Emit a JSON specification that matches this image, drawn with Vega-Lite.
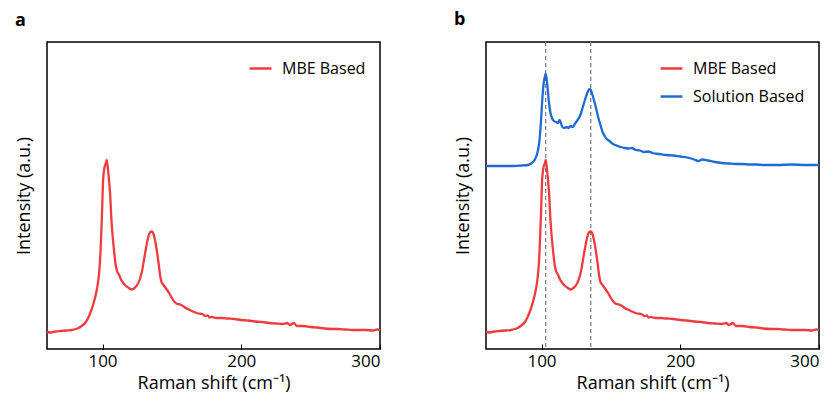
{
  "$schema": "https://vega.github.io/schema/vega-lite/v6.json",
  "padding": {"left": 14, "top": 10, "right": 5, "bottom": 5},
  "background": "white",
  "config": {
    "font": "Open Sans",
    "view": {"stroke": "black", "strokeWidth": 1.5},
    "axis": {"grid": false, "domain": false, "labelColor": "black", "titleColor": "black", "titleFontWeight": "normal"},
    "title": {"fontSize": 18, "fontWeight": "bold", "anchor": "start", "frame": "bounds", "offset": 12, "color": "black"},
    "legend": {"labelFontSize": 16, "labelColor": "black", "symbolType": "stroke", "symbolSize": 480, "symbolStrokeWidth": 2.5, "rowPadding": 7, "labelOffset": 9, "orient": "top-right", "offset": 14, "title": null}
  },
  "datasets": {
    "spec": [
      {"x":60,"y":17,"s":"MBE Based"},{"x":63,"y":16.5,"s":"MBE Based"},{"x":66,"y":17.5,"s":"MBE Based"},{"x":70,"y":18,"s":"MBE Based"},{"x":74,"y":18.5,"s":"MBE Based"},{"x":78,"y":19,"s":"MBE Based"},{"x":82,"y":20.5,"s":"MBE Based"},{"x":85,"y":23,"s":"MBE Based"},{"x":88,"y":27,"s":"MBE Based"},{"x":90,"y":32,"s":"MBE Based"},{"x":92,"y":39,"s":"MBE Based"},{"x":94,"y":48,"s":"MBE Based"},{"x":96,"y":60,"s":"MBE Based"},{"x":97.5,"y":75,"s":"MBE Based"},{"x":98.5,"y":95,"s":"MBE Based"},{"x":99.5,"y":130,"s":"MBE Based"},{"x":100.5,"y":170,"s":"MBE Based"},{"x":101.5,"y":182,"s":"MBE Based"},{"x":102.5,"y":186,"s":"MBE Based"},{"x":103,"y":189,"s":"MBE Based"},{"x":103.5,"y":185,"s":"MBE Based"},{"x":104.5,"y":172,"s":"MBE Based"},{"x":105.5,"y":155,"s":"MBE Based"},{"x":106.5,"y":128,"s":"MBE Based"},{"x":107.5,"y":110,"s":"MBE Based"},{"x":108.5,"y":96,"s":"MBE Based"},{"x":109.5,"y":84,"s":"MBE Based"},{"x":110.5,"y":78,"s":"MBE Based"},{"x":112,"y":74,"s":"MBE Based"},{"x":113.5,"y":69,"s":"MBE Based"},{"x":115,"y":66,"s":"MBE Based"},{"x":117,"y":63,"s":"MBE Based"},{"x":119,"y":61,"s":"MBE Based"},{"x":121,"y":59.5,"s":"MBE Based"},{"x":123,"y":61,"s":"MBE Based"},{"x":125,"y":64,"s":"MBE Based"},{"x":127,"y":70,"s":"MBE Based"},{"x":128.5,"y":78,"s":"MBE Based"},{"x":130,"y":90,"s":"MBE Based"},{"x":131.5,"y":102,"s":"MBE Based"},{"x":133,"y":112,"s":"MBE Based"},{"x":134.5,"y":117,"s":"MBE Based"},{"x":135.5,"y":117.5,"s":"MBE Based"},{"x":136.5,"y":116,"s":"MBE Based"},{"x":137.5,"y":111,"s":"MBE Based"},{"x":138.5,"y":104,"s":"MBE Based"},{"x":139.5,"y":95,"s":"MBE Based"},{"x":140.5,"y":85,"s":"MBE Based"},{"x":141.5,"y":74,"s":"MBE Based"},{"x":142.5,"y":67,"s":"MBE Based"},{"x":144,"y":64,"s":"MBE Based"},{"x":146,"y":60,"s":"MBE Based"},{"x":148,"y":56,"s":"MBE Based"},{"x":150,"y":51,"s":"MBE Based"},{"x":152,"y":47,"s":"MBE Based"},{"x":154,"y":45,"s":"MBE Based"},{"x":156,"y":44.5,"s":"MBE Based"},{"x":158,"y":43,"s":"MBE Based"},{"x":160,"y":41,"s":"MBE Based"},{"x":163,"y":39,"s":"MBE Based"},{"x":166,"y":37,"s":"MBE Based"},{"x":169,"y":35.5,"s":"MBE Based"},{"x":172,"y":35,"s":"MBE Based"},{"x":174,"y":33,"s":"MBE Based"},{"x":176,"y":33.5,"s":"MBE Based"},{"x":177,"y":31.5,"s":"MBE Based"},{"x":179,"y":32,"s":"MBE Based"},{"x":182,"y":31,"s":"MBE Based"},{"x":186,"y":31,"s":"MBE Based"},{"x":190,"y":30.5,"s":"MBE Based"},{"x":195,"y":30,"s":"MBE Based"},{"x":200,"y":29,"s":"MBE Based"},{"x":205,"y":28.5,"s":"MBE Based"},{"x":210,"y":27.5,"s":"MBE Based"},{"x":215,"y":27,"s":"MBE Based"},{"x":220,"y":26,"s":"MBE Based"},{"x":225,"y":25.5,"s":"MBE Based"},{"x":230,"y":25,"s":"MBE Based"},{"x":233,"y":26,"s":"MBE Based"},{"x":235,"y":24,"s":"MBE Based"},{"x":238,"y":26,"s":"MBE Based"},{"x":240,"y":23,"s":"MBE Based"},{"x":245,"y":23,"s":"MBE Based"},{"x":250,"y":22,"s":"MBE Based"},{"x":255,"y":21.5,"s":"MBE Based"},{"x":260,"y":20.5,"s":"MBE Based"},{"x":265,"y":20,"s":"MBE Based"},{"x":270,"y":20,"s":"MBE Based"},{"x":275,"y":19.5,"s":"MBE Based"},{"x":280,"y":19,"s":"MBE Based"},{"x":285,"y":19,"s":"MBE Based"},{"x":290,"y":19,"s":"MBE Based"},{"x":295,"y":18.5,"s":"MBE Based"},{"x":298,"y":19.5,"s":"MBE Based"},{"x":300,"y":19,"s":"MBE Based"},
      {"x":60,"y":183,"s":"Solution Based"},{"x":70,"y":183,"s":"Solution Based"},{"x":80,"y":183,"s":"Solution Based"},{"x":86,"y":183.5,"s":"Solution Based"},{"x":90,"y":184,"s":"Solution Based"},{"x":93,"y":186,"s":"Solution Based"},{"x":95,"y":189,"s":"Solution Based"},{"x":97,"y":196,"s":"Solution Based"},{"x":98.5,"y":208,"s":"Solution Based"},{"x":99.5,"y":225,"s":"Solution Based"},{"x":100.5,"y":248,"s":"Solution Based"},{"x":101.5,"y":265,"s":"Solution Based"},{"x":102.5,"y":273,"s":"Solution Based"},{"x":103,"y":275,"s":"Solution Based"},{"x":103.5,"y":272,"s":"Solution Based"},{"x":104.5,"y":260,"s":"Solution Based"},{"x":105.5,"y":245,"s":"Solution Based"},{"x":106.5,"y":236,"s":"Solution Based"},{"x":107.5,"y":231,"s":"Solution Based"},{"x":109,"y":228,"s":"Solution Based"},{"x":110.5,"y":227,"s":"Solution Based"},{"x":112,"y":226,"s":"Solution Based"},{"x":113,"y":229,"s":"Solution Based"},{"x":114,"y":226,"s":"Solution Based"},{"x":115,"y":222,"s":"Solution Based"},{"x":116.5,"y":221,"s":"Solution Based"},{"x":118,"y":222,"s":"Solution Based"},{"x":119.5,"y":221,"s":"Solution Based"},{"x":121,"y":223,"s":"Solution Based"},{"x":122.5,"y":222,"s":"Solution Based"},{"x":124,"y":225,"s":"Solution Based"},{"x":125.5,"y":228,"s":"Solution Based"},{"x":127,"y":231,"s":"Solution Based"},{"x":128.5,"y":236,"s":"Solution Based"},{"x":130,"y":243,"s":"Solution Based"},{"x":131.5,"y":250,"s":"Solution Based"},{"x":133,"y":256,"s":"Solution Based"},{"x":134.5,"y":260,"s":"Solution Based"},{"x":135.5,"y":259,"s":"Solution Based"},{"x":136.5,"y":255,"s":"Solution Based"},{"x":138,"y":248,"s":"Solution Based"},{"x":139.5,"y":240,"s":"Solution Based"},{"x":141,"y":231,"s":"Solution Based"},{"x":142.5,"y":224,"s":"Solution Based"},{"x":144,"y":217,"s":"Solution Based"},{"x":145.5,"y":213,"s":"Solution Based"},{"x":147,"y":210,"s":"Solution Based"},{"x":149,"y":208,"s":"Solution Based"},{"x":151,"y":205.5,"s":"Solution Based"},{"x":153,"y":204,"s":"Solution Based"},{"x":155,"y":203,"s":"Solution Based"},{"x":157,"y":202,"s":"Solution Based"},{"x":160,"y":201,"s":"Solution Based"},{"x":163,"y":200.5,"s":"Solution Based"},{"x":165,"y":201,"s":"Solution Based"},{"x":168,"y":199,"s":"Solution Based"},{"x":171,"y":198.5,"s":"Solution Based"},{"x":174,"y":197,"s":"Solution Based"},{"x":177,"y":197.5,"s":"Solution Based"},{"x":180,"y":196,"s":"Solution Based"},{"x":185,"y":195,"s":"Solution Based"},{"x":190,"y":194,"s":"Solution Based"},{"x":195,"y":193.5,"s":"Solution Based"},{"x":200,"y":192.5,"s":"Solution Based"},{"x":205,"y":191.5,"s":"Solution Based"},{"x":210,"y":189.5,"s":"Solution Based"},{"x":213,"y":188,"s":"Solution Based"},{"x":216,"y":189.5,"s":"Solution Based"},{"x":220,"y":188.5,"s":"Solution Based"},{"x":225,"y":187,"s":"Solution Based"},{"x":230,"y":186,"s":"Solution Based"},{"x":235,"y":185.5,"s":"Solution Based"},{"x":240,"y":185,"s":"Solution Based"},{"x":245,"y":185,"s":"Solution Based"},{"x":250,"y":184.5,"s":"Solution Based"},{"x":255,"y":184.5,"s":"Solution Based"},{"x":260,"y":184,"s":"Solution Based"},{"x":270,"y":184,"s":"Solution Based"},{"x":280,"y":184.5,"s":"Solution Based"},{"x":290,"y":184,"s":"Solution Based"},{"x":300,"y":184,"s":"Solution Based"}
    ],
    "peaks": [{"x": 103}, {"x": 135.5}]
  },
  "spacing": 67,
  "resolve": {"scale": {"color": "independent"}},
  "hconcat": [
    {
      "title": {"text": "a"},
      "width": 333,
      "height": 307,
      "data": {"name": "spec"},
      "transform": [{"filter": "datum.s === 'MBE Based'"}],
      "mark": {"type": "line", "strokeWidth": 2.3, "interpolate": "monotone"},
      "encoding": {
        "x": {"field": "x", "type": "quantitative", "scale": {"domain": [60, 300], "nice": false},
          "axis": {"values": [100, 200, 300], "tickSize": -5, "tickColor": "black", "labelFontSize": 17, "labelPadding": 9, "title": "Raman shift (cm⁻¹)", "titleFontSize": 18, "titlePadding": 5}},
        "y": {"field": "y", "type": "quantitative", "scale": {"domain": [0, 307], "nice": false, "zero": false},
          "axis": {"labels": false, "ticks": false, "title": "Intensity (a.u.)", "titleFontSize": 18, "titlePadding": 14}},
        "color": {"field": "s", "type": "nominal", "scale": {"domain": ["MBE Based"], "range": ["#EF3B3E"]}, "legend": {}}
      }
    },
    {
      "title": {"text": "b"},
      "width": 333,
      "height": 307,
      "encoding": {
        "x": {"field": "x", "type": "quantitative", "scale": {"domain": [60, 300], "nice": false},
          "axis": {"values": [100, 200, 300], "tickSize": -5, "tickColor": "black", "labelFontSize": 17, "labelPadding": 9, "title": "Raman shift (cm⁻¹)", "titleFontSize": 18, "titlePadding": 5}}
      },
      "layer": [
        {
          "data": {"name": "peaks"},
          "mark": {"type": "rule", "stroke": "#808080", "strokeWidth": 1.3, "strokeDash": [4, 3]},
          "encoding": {}
        },
        {
          "data": {"name": "spec"},
          "mark": {"type": "line", "strokeWidth": 2.3, "interpolate": "monotone"},
          "encoding": {
            "y": {"field": "y", "type": "quantitative", "scale": {"domain": [0, 307], "nice": false, "zero": false},
              "axis": {"labels": false, "ticks": false, "title": "Intensity (a.u.)", "titleFontSize": 18, "titlePadding": 14}},
            "color": {"field": "s", "type": "nominal", "scale": {"domain": ["MBE Based", "Solution Based"], "range": ["#EF3B3E", "#1E6BD6"]}, "legend": {}}
          }
        }
      ]
    }
  ]
}
